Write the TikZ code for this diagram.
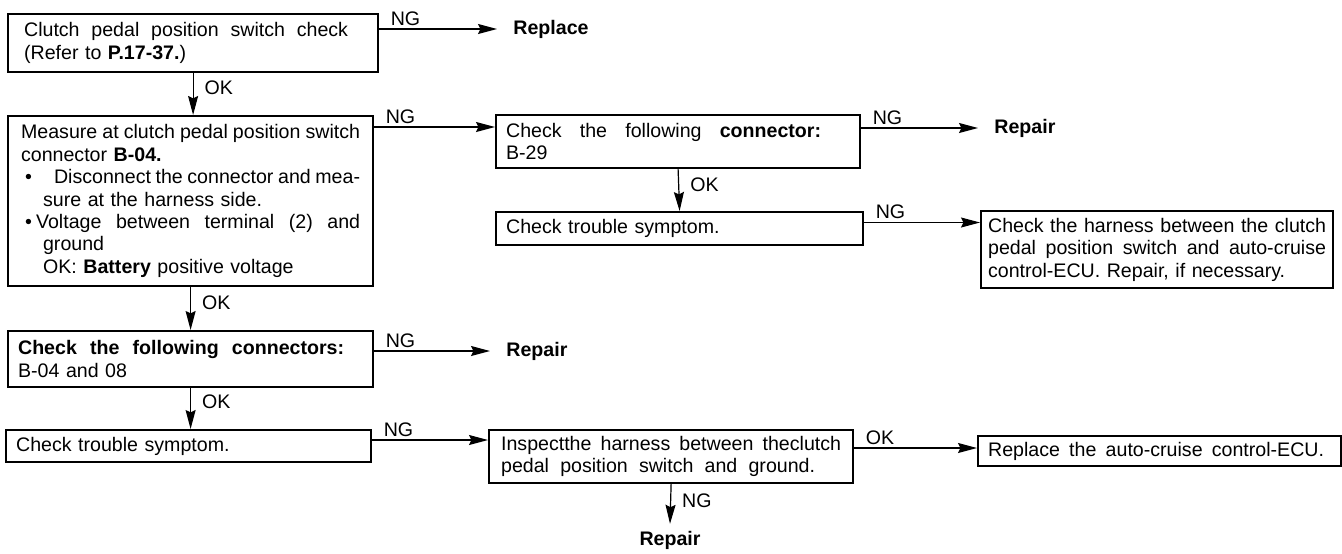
\documentclass[tikz,border=0pt]{standalone}
\usepackage{fontspec}
\setmainfont{Liberation Sans}
\usetikzlibrary{arrows.meta, positioning, calc}

\begin{document}
\begin{tikzpicture}[x=0.5pt,y=-0.5pt,>={Stealth[length=9.5pt,width=5pt,inset=1.2pt]},
  font=\fontsize{9.8}{11.2}\selectfont,
  box/.style={draw,line width=1.1pt,anchor=north west,align=left,inner ysep=0pt,inner xsep=5pt},
  arr/.style={->,line width=0.6pt},
  lbl/.style={inner sep=1.5pt,xshift=4pt},
  res/.style={font=\fontsize{9.8}{11.2}\selectfont\bfseries,anchor=west,inner xsep=8pt}]

% riga giustificata: gli spazi si allargano fino alla larghezza data
\newcommand{\spreadline}[2]{\makebox[#1][s]{\spaceskip=0.28em plus 1fil minus 0.1em\relax #2}}

\useasboundingbox (0,0) rectangle (1342,553);

% --- Caselle
\node[box,inner xsep=8pt,text width=169pt,minimum height=29pt] (chk) at (7,13)
  {\spreadline{162pt}{Clutch pedal position switch check}\\(Refer to \textbf{P.17-37.})};

\node[box,inner xsep=6.5pt,text width=169.5pt,minimum height=85pt] (meas) at (7,115)
  {\spreadline{169.5pt}{Measure at clutch pedal position switch}\\
   connector \textbf{B-04.}\\
   \makebox[16.5pt][l]{\hspace*{2pt}\textbullet}\spreadline{153pt}{Disconnect the connector and mea-}\\
   \hspace*{11pt}sure at the harness side.\\
   \makebox[7.5pt][l]{\hspace*{2pt}\textbullet}\spreadline{162pt}{Voltage between terminal (2) and}\\
   \hspace*{11pt}ground\\
   \hspace*{11pt}OK: \textbf{Battery} positive voltage};

\node[box,text width=172pt,minimum height=26.5pt] (conn) at (495,114)
  {\spreadline{157.5pt}{Check the following \textbf{connector:}}\\B-29};

\node[box,text width=173.5pt,minimum height=16.5pt] (trb1) at (495,211)
  {Check trouble symptom.};

\node[box,inner xsep=3.5pt,text width=169pt,minimum height=38.5pt] (hrn) at (980,210)
  {\spreadline{169pt}{Check the harness between the clutch}\\
   \spreadline{169pt}{pedal position switch and auto-cruise}\\
   control-ECU. Repair, if necessary.};

\node[box,text width=172.5pt,minimum height=28pt] (conns) at (7,330)
  {\spreadline{163pt}{\bfseries Check the following connectors:}\\B-04 and 08};

\node[box,text width=172.5pt,minimum height=16pt] (trb2) at (5,429)
  {Check trouble symptom.};

\node[box,inner xsep=6pt,text width=170pt,minimum height=26.5pt] (insp) at (488,429)
  {\spreadline{170pt}{Inspectthe harness between theclutch}\\
   \spreadline{157pt}{pedal position switch and ground.}};

\node[box,text width=171.5pt,minimum height=15pt] (ecu) at (977,435)
  {\spreadline{168pt}{Replace the auto-cruise control-ECU.}};

% --- Esiti
\node[res] (rep1) at (497,29) {Replace};
\node[res] (rep2) at (978,128) {Repair};
\node[res] (rep3) at (490,351) {Repair};
\node[res,anchor=center] (rep4) at (670,540) {Repair};

% --- Ingressi laterali
\coordinate (connin) at ([yshift=-6.5pt]conn.north west);
\coordinate (hrnin) at ([yshift=-6.25pt]hrn.north west);
\coordinate (inspin) at ([yshift=-5.5pt]insp.north west);
\coordinate (ecuin) at ([yshift=-6.5pt]ecu.north west);

% --- Frecce NG
\draw[arr] (chk.east |- rep1.west) -- node[lbl,pos=0,above right] {NG} (rep1.west);
\draw[arr] (meas.east |- connin) -- node[lbl,pos=0,above right] {NG} (connin);
\draw[arr] (conn.east |- rep2.west) -- node[lbl,pos=0,above right] {NG} (rep2.west);
\draw[arr] (trb1.east |- hrnin) -- node[lbl,pos=0,above right] {NG} (hrnin);
\draw[arr] (conns.east |- rep3.west) -- node[lbl,pos=0,above right] {NG} (rep3.west);
\draw[arr] (trb2.east |- inspin) -- node[lbl,pos=0,above right] {NG} (inspin);
\draw[arr] (insp.south) -- node[lbl,pos=0.43,right] {NG} (rep4.north);

% --- Frecce OK
\draw[arr] (chk.south) -- node[lbl,pos=0.35,right] {OK} (chk.south |- meas.north);
\draw[arr] (meas.south) -- node[lbl,pos=0.36,right] {OK} (meas.south |- conns.north);
\draw[arr] (conns.south) -- node[lbl,pos=0.33,right] {OK} (conns.south |- trb2.north);
\draw[arr] (conn.south) -- node[lbl,pos=0.36,right] {OK} (trb1.north);
\draw[arr] (insp.east |- ecuin) -- node[lbl,pos=0,above right] {OK} (ecuin);

\end{tikzpicture}
\end{document}
